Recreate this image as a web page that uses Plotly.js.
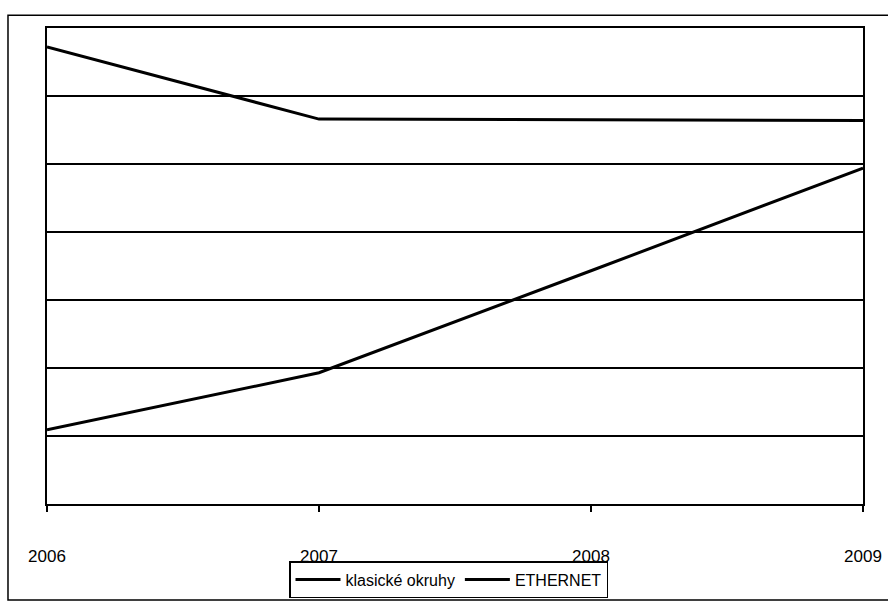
<!DOCTYPE html>
<html>
<head>
<meta charset="utf-8">
<script src="https://cdn.plot.ly/plotly-3.0.1.min.js"></script>
<style>html,body{margin:0;padding:0;background:#fff;}#chart{width:888px;height:603px;}</style>
</head>
<body>
<div id="chart"></div>
<script>
// Data (y axis has no labels; units = gridline steps)
var years = [2006, 2007, 2008, 2009];
var klasickeOkruhy = [6.72, 5.66, 5.65, 5.64];
var ethernet = [1.09, 1.93, 3.43, 4.94];
var seriesNames = ['klasické okruhy', 'ETHERNET'];
var tickYears = ['2006', '2007', '2008', '2009'];

var font = 'Liberation Sans, Arial, sans-serif';

var traces = [
  {x: years, y: klasickeOkruhy, name: seriesNames[0], type: 'scatter', mode: 'lines',
   line: {color: '#000', width: 3}},
  {x: years, y: ethernet, name: seriesNames[1], type: 'scatter', mode: 'lines',
   line: {color: '#000', width: 3}}
];

var layout = {
  width: 888, height: 603,
  margin: {l: 47, r: 25, t: 28, b: 99, autoexpand: false},
  paper_bgcolor: '#fff', plot_bgcolor: '#fff',
  font: {family: font, color: '#000', size: 17},
  showlegend: true,
  legend: {
    orientation: 'h', xref: 'container', yref: 'container',
    x: 289 / 888, xanchor: 'left', y: 1 - 561 / 603, yanchor: 'top',
    bordercolor: '#000', borderwidth: 1.5, bgcolor: '#fff',
    font: {family: font, size: 16, color: '#000'},
    itemwidth: 45, tracegroupgap: 0
  },
  xaxis: {
    range: [2006, 2009], tickvals: years, ticktext: tickYears,
    showgrid: false, zeroline: false,
    showline: true, linecolor: '#000', linewidth: 2, mirror: true,
    ticks: 'outside', ticklen: 6, tickcolor: '#000', tickwidth: 1.5,
    ticklabelstandoff: 30,
    tickfont: {family: font, size: 17, color: '#000'},
    fixedrange: true
  },
  yaxis: {
    range: [0, 7], dtick: 1, showticklabels: false,
    showgrid: true, gridcolor: '#000', gridwidth: 1.6,
    zeroline: false,
    showline: true, linecolor: '#000', linewidth: 2, mirror: true,
    ticks: '', fixedrange: true
  },
  shapes: [
    {type: 'rect', xref: 'paper', yref: 'paper',
     x0: -0.0478, x1: 1.045, y0: -0.2017, y1: 1.027,
     line: {color: '#000', width: 1.5}, fillcolor: 'rgba(0,0,0,0)', layer: 'below'}
  ]
};

Plotly.newPlot('chart', traces, layout, {displayModeBar: false, staticPlot: true});
</script>
</body>
</html>
